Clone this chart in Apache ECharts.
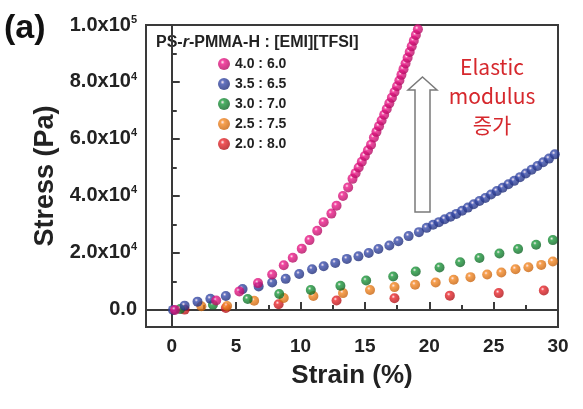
<!DOCTYPE html>
<html><head><meta charset="utf-8">
<script src="https://cdn.jsdelivr.net/npm/echarts@6/dist/echarts.min.js"></script>
<style>html,body{margin:0;padding:0;background:#fff}#c{width:583px;height:409px}</style>
</head><body><div id="c"></div>
<script>
// ---- tick values / labels ----
const xTicks = [0, 5, 10, 15, 20, 25, 30];
const xMinorTicks = [2.5, 7.5, 12.5, 17.5, 22.5, 27.5];
const yTicks = [0, 20000, 40000, 60000, 80000, 100000];
const yMinorTicks = [10000, 30000, 50000, 70000, 90000];
const yTickMantissa = ['0.0', '2.0x10', '4.0x10', '6.0x10', '8.0x10', '1.0x10'];
const yTickExponent = ['', '4', '4', '4', '4', '5'];

// ---- series names ----
const seriesNames = ['4.0 : 6.0', '3.5 : 6.5', '3.0 : 7.0', '2.5 : 7.5', '2.0 : 8.0'];

// ---- data (strain %, stress Pa) ----
const pinkStrain = [0.25, 3.45, 5.25, 6.7, 7.8, 8.7, 9.4, 10.1, 10.7, 11.3, 11.8, 12.4, 12.8, 13.3, 13.7, 14.04, 14.28, 14.52, 14.76, 15.0, 15.24, 15.48, 15.7, 15.9, 16.1, 16.3, 16.5, 16.7, 16.9, 17.1, 17.3, 17.5, 17.68, 17.84, 18.0, 18.16, 18.32, 18.48, 18.64, 18.8, 18.96, 19.12];
const pinkStress = [0, 3300, 6500, 9400, 12400, 15700, 18300, 21500, 24500, 27800, 30800, 33800, 36600, 40000, 43000, 46000, 48000, 50000, 52000, 54000, 56000, 58000, 60500, 62500, 64500, 66500, 68500, 70500, 72500, 74500, 76500, 78500, 80500, 82500, 84500, 86500, 88500, 90500, 92500, 94500, 96500, 98500];

const blueStrain = [0.1, 1.0, 2.0, 3.0, 4.2, 5.5, 6.75, 7.8, 8.85, 9.9, 10.9, 11.8, 12.7, 13.6, 14.5, 15.3, 16.05, 16.9, 17.6, 18.4, 19.2, 19.8, 20.3, 20.75, 21.2, 21.65, 22.1, 22.55, 23.0, 23.45, 23.9, 24.35, 24.8, 25.25, 25.7, 26.15, 26.6, 27.05, 27.5, 27.95, 28.4, 28.85, 29.3, 29.75];
const blueStress = [0, 1500, 2900, 3900, 4900, 7300, 8200, 9600, 10900, 12600, 14300, 15300, 16500, 17900, 18800, 20000, 21400, 22600, 24100, 25900, 27300, 28800, 29900, 30800, 31800, 32700, 33700, 34800, 35900, 37100, 38200, 39300, 40500, 41700, 42900, 44100, 45300, 46600, 47900, 49200, 50500, 51800, 53100, 54600];

const greenStrain = [0.65, 3.2, 5.9, 8.35, 10.8, 13.1, 15.1, 17.2, 18.95, 20.8, 22.4, 23.9, 25.45, 26.9, 28.3, 29.6];
const greenStress = [300, 1800, 3800, 5600, 7000, 8500, 10300, 11700, 13500, 14900, 16700, 18200, 19800, 21400, 22900, 24500];

const orangeStrain = [2.3, 4.3, 6.4, 8.7, 11.0, 13.3, 15.4, 17.3, 18.9, 20.5, 21.9, 23.2, 24.5, 25.6, 26.7, 27.7, 28.7, 29.6];
const orangeStress = [1300, 1400, 3200, 4200, 4900, 5900, 7000, 8000, 8800, 9600, 10600, 11500, 12400, 13100, 14300, 15000, 15800, 17000];

const redStrain = [1.0, 4.2, 8.3, 12.8, 17.3, 21.6, 25.4, 28.9];
const redStress = [100, 700, 2000, 3300, 4100, 5000, 5900, 6800];

function pairs(xs, ys) { return xs.map((x, i) => [x, ys[i]]); }
function ball(c, dark) {
  return { type: 'radial', x: 0.38, y: 0.35, r: 0.7,
    colorStops: [{ offset: 0, color: '#ffe8f0' }, { offset: 0.25, color: c }, { offset: 1, color: dark }] };
}
const FONT = 'Liberation Sans, Arial, sans-serif';
const AX = '#3a3a3a';

const chart = echarts.init(document.getElementById('c'), null, { renderer: 'canvas' });

function sc(name, data, c, dark, z) {
  return { name: name, type: 'scatter', data: data, symbol: 'circle', symbolSize: 10, z: z,
    itemStyle: { color: ball(c, dark) }, emphasis: { disabled: true }, animation: false };
}

const option = {
  animation: false,
  grid: { left: 146, right: 25, top: 25, bottom: 82, show: true, borderColor: AX, borderWidth: 2, backgroundColor: 'transparent' },
  xAxis: [
    { type: 'value', min: -2, max: 30, position: 'bottom',
      axisLine: { show: true, lineStyle: { color: AX, width: 2 } },
      axisTick: { show: true, inside: true, length: 8, customValues: xTicks, lineStyle: { color: AX, width: 2 } },
      axisLabel: { customValues: xTicks, fontSize: 19, fontWeight: 'bold', color: '#222', margin: 10, fontFamily: FONT },
      splitLine: { show: false },
      name: 'Strain (%)', nameLocation: 'middle', nameGap: 36,
      nameTextStyle: { fontSize: 26, fontWeight: 'bold', color: '#222', fontFamily: FONT } },
    { type: 'value', min: -2, max: 30, position: 'bottom',
      axisLine: { show: false },
      axisTick: { show: true, inside: true, length: 5, customValues: xMinorTicks, lineStyle: { color: AX, width: 2 } },
      axisLabel: { show: false }, splitLine: { show: false } }
  ],
  yAxis: [
    { type: 'value', min: -6000, max: 100000, position: 'left',
      axisLine: { show: true, lineStyle: { color: AX, width: 2 } },
      axisTick: { show: true, inside: true, length: 8, customValues: yTicks, lineStyle: { color: AX, width: 2 } },
      axisLabel: { customValues: yTicks, margin: 9,
        formatter: function (v) {
          const i = yTicks.indexOf(v);
          if (i < 0) return '';
          return yTickExponent[i] ? '{b|' + yTickMantissa[i] + '}{s|' + yTickExponent[i] + '}' : '{b|' + yTickMantissa[i] + '}';
        },
        rich: {
          b: { fontSize: 20, fontWeight: 'bold', color: '#222', fontFamily: FONT, lineHeight: 22 },
          s: { fontSize: 11, fontWeight: 'bold', color: '#222', fontFamily: FONT, lineHeight: 11, verticalAlign: 'top' }
        } },
      splitLine: { show: false },
      name: 'Stress (Pa)', nameLocation: 'middle', nameGap: 85,
      nameTextStyle: { fontSize: 27, fontWeight: 'bold', color: '#222', fontFamily: FONT } },
    { type: 'value', min: -6000, max: 100000, position: 'left',
      axisLine: { show: false },
      axisTick: { show: true, inside: true, length: 5, customValues: yMinorTicks, lineStyle: { color: AX, width: 2 } },
      axisLabel: { show: false }, splitLine: { show: false } }
  ],
  legend: {
    data: seriesNames, orient: 'vertical', left: 218, top: 56, padding: 0,
    itemWidth: 12, itemHeight: 12, itemGap: 4, icon: 'circle', selectedMode: false,
    textStyle: { fontSize: 14, fontWeight: 'bold', color: '#222', fontFamily: FONT, lineHeight: 16 }
  },
  series: [
    sc(seriesNames[4], pairs(redStrain, redStress), '#ec2a2e', '#a90f14', 1),
    sc(seriesNames[3], pairs(orangeStrain, orangeStress), '#f58a25', '#c45f0a', 2),
    sc(seriesNames[2], pairs(greenStrain, greenStress), '#1e9c3e', '#0c5f22', 3),
    sc(seriesNames[1], pairs(blueStrain, blueStress), '#3b4fae', '#1d2a74', 4),
    sc(seriesNames[0], pairs(pinkStrain, pinkStress), '#ee1a8a', '#ad0b5e', 5)
  ],
  graphic: [
    { type: 'text', left: 4, top: 12, style: { text: '(a)', font: 'bold 34px ' + FONT, fill: '#111' } },
    { type: 'text', left: 156, top: 35, style: {
        text: '{n|PS-}{i|r}{n|-PMMA-H : [EMI][TFSI]}',
        rich: { n: { font: 'bold 16px ' + FONT, fill: '#222' }, i: { font: 'italic bold 16px ' + FONT, fill: '#222' } } } },
    { type: 'polygon', z: 10, shape: { points: [[422.5, 77], [437, 90], [430, 90], [430, 212], [415, 212], [415, 90], [408, 90]] },
      style: { fill: '#ffffff', stroke: '#7a7a7a', lineWidth: 1.5 } },
    { type: 'text', z: 10, x: 492, y: 53, style: {
        text: 'Elastic\nmodulus\n증가', align: 'center', verticalAlign: 'top',
        font: '21px "Noto Sans CJK KR", "Noto Sans", sans-serif', lineHeight: 29, fill: '#d6282d' } }
  ]
};
chart.setOption(option);
</script>
</body></html>
